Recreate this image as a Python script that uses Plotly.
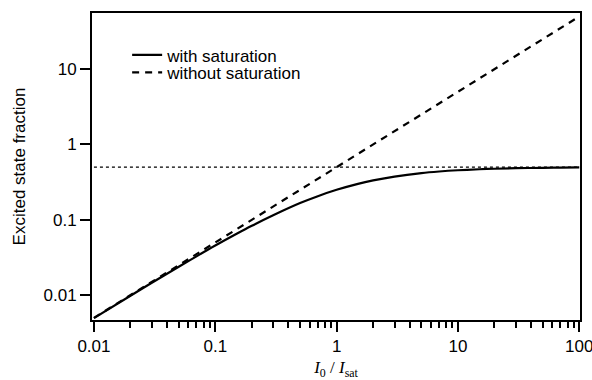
import plotly.graph_objects as go

sat_x = [0.01, 0.02, 0.03, 0.05, 0.07, 0.1, 0.15, 0.2, 0.3, 0.5, 0.7, 1, 1.5, 2, 3, 5, 7, 10, 15, 20, 30, 50, 70, 100]
sat_y = [0.00495, 0.0098, 0.0146, 0.0238, 0.0327, 0.0455, 0.0652, 0.0833, 0.115, 0.167, 0.206, 0.25, 0.30, 0.333,
         0.375, 0.417, 0.4375, 0.4545, 0.469, 0.476, 0.484, 0.490, 0.493, 0.495]
nosat_x = [0.01, 100]
nosat_y = [0.005, 50]
limit_x = [0.01, 100]
limit_y = [0.5, 0.5]

x_tickvals = [0.01, 0.1, 1, 10, 100]
x_ticktext = ["0.01", "0.1", "1", "10", "100"]
y_tickvals = [0.01, 0.1, 1, 10]
y_ticktext = ["0.01", "0.1", "1", "10"]

font = "Liberation Sans, Arial, sans-serif"
fs = 17

fig = go.Figure()
fig.add_trace(go.Scatter(x=limit_x, y=limit_y, mode="lines", showlegend=False,
                         line=dict(color="black", width=1.2, dash="dot")))
fig.add_trace(go.Scatter(x=sat_x, y=sat_y, mode="lines", name="with saturation", legend="legend",
                         line=dict(color="black", width=2.2, shape="spline")))
fig.add_trace(go.Scatter(x=nosat_x, y=nosat_y, mode="lines", name="without saturation", legend="legend2",
                         line=dict(color="black", width=2.2, dash="7px,6px")))

leg_common = dict(xanchor="left", yanchor="middle", bgcolor="rgba(0,0,0,0)",
                  font=dict(size=fs, family=font), itemwidth=30)
fig.update_layout(
    width=592, height=380,
    margin=dict(l=92, r=12, t=13, b=60),
    plot_bgcolor="white", paper_bgcolor="white",
    font=dict(family=font, color="black", size=fs),
    legend=dict(x=0.072, y=0.862, **leg_common),
    legend2=dict(x=0.072, y=0.805, **leg_common),
    showlegend=True,
)
fig.update_xaxes(
    type="log", range=[-2.016, 2.006], automargin=False,
    tickvals=x_tickvals, ticktext=x_ticktext, ticklabeloverflow="allow",
    ticks="outside", ticklen=10, tickwidth=2, tickcolor="black",
    minor=dict(ticks="outside", ticklen=6, tickwidth=1.5, tickcolor="black", dtick="D1", showgrid=False),
    showline=True, linewidth=2, linecolor="black", mirror=True,
    showgrid=False, zeroline=False,
    tickfont=dict(size=fs, family=font),
    title=dict(text="<i>I</i><sub>0</sub> / <i>I</i><sub>sat</sub>",
               font=dict(family="Liberation Serif, Times New Roman, serif", size=fs), standoff=6),
)
fig.update_yaxes(
    type="log", range=[-2.33, 1.745], automargin=False,
    tickvals=y_tickvals, ticktext=y_ticktext, ticklabeloverflow="allow",
    ticks="outside", ticklen=10, tickwidth=2, tickcolor="black",
    showline=True, linewidth=2, linecolor="black", mirror=True,
    showgrid=False, zeroline=False,
    tickfont=dict(size=fs, family=font),
    title=dict(text="Excited state fraction", font=dict(size=fs, family=font), standoff=14),
)

fig.write_html("out.html")
